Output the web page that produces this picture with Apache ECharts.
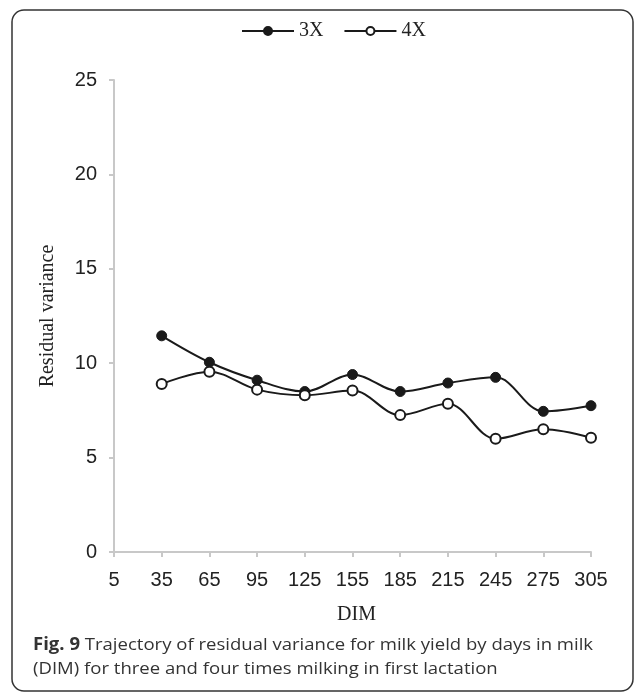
<!DOCTYPE html>
<html>
<head>
<meta charset="utf-8">
<script src="https://cdn.jsdelivr.net/npm/echarts@6/dist/echarts.min.js"></script>
<style>
html,body{margin:0;padding:0;background:#fff;}
#chart{width:635px;height:693px;}
</style>
</head>
<body>
<div id="chart"></div>
<script>
// Data
var dimCategories = ['5','35','65','95','125','155','185','215','245','275','305'];
var series3X = ['-', 11.45, 10.05, 9.1, 8.5, 9.4, 8.5, 8.95, 9.25, 7.45, 7.75];
var series4X = ['-', 8.9, 9.55, 8.6, 8.3, 8.55, 7.25, 7.85, 6.0, 6.5, 6.05];
var yTicks = [0, 5, 10, 15, 20, 25];
var seriesNames = ['3X', '4X'];

var chart = echarts.init(document.getElementById('chart'), null, {renderer: 'canvas'});
var axisGray = '#c8c8c8';
var lineColor = '#1a1a1a';

var option = {
  backgroundColor: '#ffffff',
  animation: false,
  legend: {
    top: 16,
    left: 236,
    itemWidth: 52,
    itemHeight: 10,
    itemGap: 20,
    data: seriesNames,
    textStyle: {fontFamily: 'Liberation Serif', fontSize: 20, color: '#222'}
  },
  grid: {left: 114, right: 44, top: 80, bottom: 141, containLabel: false},
  xAxis: {
    type: 'category',
    data: dimCategories,
    boundaryGap: false,
    name: 'DIM',
    nameLocation: 'middle',
    nameGap: 53,
    nameTextStyle: {fontFamily: 'Liberation Serif', fontSize: 20, color: '#222', padding: [0, 0, 0, 8]},
    axisLine: {lineStyle: {color: axisGray, width: 2}},
    axisTick: {show: true, alignWithLabel: true, length: 5, lineStyle: {color: axisGray, width: 2}},
    axisLabel: {fontFamily: 'Liberation Sans', fontSize: 20, color: '#222', margin: 18, interval: 0},
    splitLine: {show: false}
  },
  yAxis: {
    type: 'value',
    min: yTicks[0],
    max: yTicks[yTicks.length - 1],
    interval: 5,
    name: 'Residual variance',
    nameLocation: 'middle',
    nameGap: 56,
    nameTextStyle: {fontFamily: 'Liberation Serif', fontSize: 20, color: '#222'},
    axisLine: {show: true, lineStyle: {color: axisGray, width: 2}},
    axisTick: {show: true, length: 5, lineStyle: {color: axisGray, width: 2}},
    axisLabel: {fontFamily: 'Liberation Sans', fontSize: 20, color: '#222', margin: 17},
    splitLine: {show: false}
  },
  series: [
    {
      name: seriesNames[0],
      type: 'line',
      data: series3X,
      smooth: 0.35,
      symbol: 'circle',
      symbolSize: 10,
      lineStyle: {color: lineColor, width: 2},
      itemStyle: {color: lineColor, borderColor: lineColor, borderWidth: 1}
    },
    {
      name: seriesNames[1],
      type: 'line',
      data: series4X,
      smooth: 0.35,
      symbol: 'circle',
      symbolSize: 10,
      lineStyle: {color: lineColor, width: 2},
      itemStyle: {color: '#ffffff', borderColor: lineColor, borderWidth: 2}
    }
  ],
  graphic: [
    {
      type: 'rect',
      shape: {x: 12, y: 10, width: 621, height: 681, r: 12},
      style: {fill: 'none', stroke: '#333', lineWidth: 1.5},
      silent: true,
      z: -1
    },
    {
      type: 'text',
      x: 33,
      y: 633,
      scaleX: 1.09,
      style: {
        text: '{b|Fig. 9} Trajectory of residual variance for milk yield by days in milk\n(DIM) for three and four times milking in first lactation',
        font: '17px "Open Sans"',
        fill: '#333',
        lineHeight: 24,
        rich: {
          b: {fontFamily: 'Open Sans', fontWeight: 'bold', fontSize: 17, fill: '#333'}
        }
      }
    }
  ]
};
chart.setOption(option);
</script>
</body>
</html>
